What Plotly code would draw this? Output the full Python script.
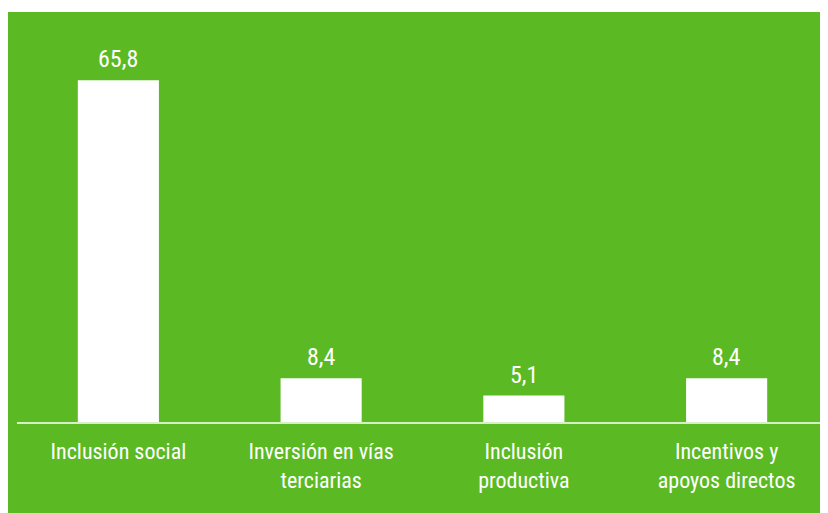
import plotly.graph_objects as go

categories = [
    "Inclusión social",
    "Inversión en vías<br>terciarias",
    "Inclusión<br>productiva",
    "Incentivos y<br>apoyos directos",
]
values = [65.8, 8.4, 5.1, 8.4]
value_labels = ["65,8", "8,4", "5,1", "8,4"]

GREEN = "#5BBA23"
FONT = "Liberation Sans Narrow, Roboto Condensed, Arial Narrow, sans-serif"

fig = go.Figure()
fig.add_trace(
    go.Bar(
        x=categories,
        y=values,
        marker=dict(color="white", line=dict(width=0)),
        width=0.4,
        hoverinfo="skip",
    )
)

# value labels above the bars
for cat, val, lab in zip(categories, values, value_labels):
    fig.add_annotation(
        x=cat,
        y=val,
        text=lab,
        showarrow=False,
        yanchor="bottom",
        yshift=5,
        font=dict(family=FONT, size=24, color="white"),
    )

# green panel behind the chart (page has an 8px body margin)
fig.add_shape(
    type="rect",
    xref="paper",
    yref="paper",
    x0=-0.02,
    x1=1.02,
    y0=-0.4,
    y1=1.096,
    fillcolor=GREEN,
    line=dict(width=0),
    layer="below",
)

fig.update_layout(
    width=828,
    height=513,
    margin=dict(l=9, r=8, t=40, b=99),
    paper_bgcolor="white",
    plot_bgcolor="rgba(0,0,0,0)",
    showlegend=False,
    bargap=0.6,
    font=dict(family=FONT, color="white"),
)
fig.update_xaxes(
    showline=True,
    linecolor="#d6efc6",
    linewidth=2,
    ticks="",
    showgrid=False,
    tickfont=dict(family=FONT, size=22, color="white"),
    ticklabelstandoff=9,
)
fig.update_yaxes(visible=False, range=[0, 72])

fig.write_html("out.html")
